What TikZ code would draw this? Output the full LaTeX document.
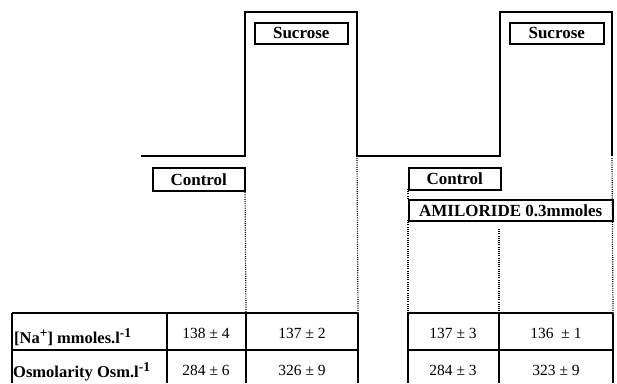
\documentclass[tikz,border=0pt]{standalone}
\usepackage{fontspec}
\setmainfont{Liberation Serif}
\newcommand{\supr}[1]{\raisebox{6pt}{\fontsize{13.5}{13.5}\selectfont #1}}
\begin{document}
\begin{tikzpicture}[x=1pt,y=-1pt,
 trace/.style={line width=1.8pt,line join=miter},
 labelbox/.style={draw,line width=1.5pt,inner sep=0pt,anchor=north west,font=\fontsize{17}{18}\selectfont\bfseries},
 guide/.style={line width=1.2pt,dash pattern=on 1pt off 1.2pt},
 gridline/.style={line width=1.3pt},
 topline/.style={line width=2pt},
 val/.style={font=\fontsize{15.5}{17}\selectfont},
 rowlab/.style={anchor=west,inner sep=0pt,font=\fontsize{16.5}{18}\selectfont\bfseries}]
\useasboundingbox (0,0) rectangle (617,383);
% trace coordinates
\coordinate (t0) at (141,156);
\coordinate (t1) at (245,156);
\coordinate (t2) at (245,12);
\coordinate (t3) at (357,12);
\coordinate (t4) at (357,156);
\coordinate (t5) at (500,156);
\coordinate (t6) at (500,12);
\coordinate (t7) at (612,12);
\coordinate (t8) at (612,156);
\draw[trace] (t0) -- (t1) -- (t2) -- (t3) -- (t4) -- (t5) -- (t6) -- (t7) -- (t8);
% label boxes
\node[labelbox,minimum width=93pt,minimum height=21pt] (suc1) at (254,22) {Sucrose};
\node[labelbox,minimum width=94pt,minimum height=21pt] (suc2) at (509,22) {Sucrose};
\node[labelbox,minimum width=92pt,minimum height=23pt] (con1) at (152,167) {Control};
\node[labelbox,minimum width=92pt,minimum height=22pt] (con2) at (408,167) {Control};
\node[labelbox,minimum width=204pt,minimum height=21pt] (amil) at (408,199) {AMILORIDE 0.3mmoles};
% table coordinates
\coordinate (a0) at (12,313);  \coordinate (a0b) at (12,383);
\coordinate (a1) at (167,313); \coordinate (a1b) at (167,383);
\coordinate (a2) at (246,313); \coordinate (a2b) at (246,383);
\coordinate (a3) at (358,313); \coordinate (a3b) at (358,383);
\coordinate (b0) at (408,313); \coordinate (b0b) at (408,383);
\coordinate (b1) at (499,313); \coordinate (b1b) at (499,383);
\coordinate (b2) at (613,313); \coordinate (b2b) at (613,383);
\coordinate (ar) at (12,350);  \coordinate (arr) at (358,350);
\coordinate (br) at (408,350); \coordinate (brr) at (613,350);
% guide lines
\coordinate (g1) at (245,190);
\coordinate (g2) at (357,158);
\coordinate (g3) at (408,220);
\coordinate (g4) at (499,229);
\coordinate (g5) at (612,158);
\coordinate (g6) at (408,189);
\draw[guide] (g1) -- (a2);
\draw[guide] (g2) -- (a3);
\draw[guide] (g3) -- (b0);
\draw[guide] (g4) -- (b1);
\draw[guide] (g5) -- (b2);
\draw[guide] (g6) -- (amil.north west);
% table lines
\draw[topline] (a0) -- (a3);
\draw[topline] (b0) -- (b2);
\draw[gridline] (ar) -- (arr);
\draw[gridline] (br) -- (brr);
\draw[gridline] (a0) -- (a0b);
\draw[gridline] (a1) -- (a1b);
\draw[gridline] (a2) -- (a2b);
\draw[gridline] (a3) -- (a3b);
\draw[gridline] (b0) -- (b0b);
\draw[gridline] (b1) -- (b1b);
\draw[gridline] (b2) -- (b2b);
% table text
\node[rowlab] (na) at (14,337) {[Na\supr{+}] mmoles.l\supr{-1}};
\node[rowlab] (osm) at (13,372) {Osmolarity Osm.l\supr{-1}};
\node[val] (v11) at (206,333) {138 ± 4};
\node[val] (v12) at (302,333) {137 ± 2};
\node[val] (v13) at (453,333) {137 ± 3};
\node[val] (v14) at (556,333) {136 \ ± 1};
\node[val] (v21) at (206,370) {284 ± 6};
\node[val] (v22) at (302,370) {326 ± 9};
\node[val] (v23) at (453,370) {284 ± 3};
\node[val] (v24) at (556,370) {323 ± 9};
\end{tikzpicture}
\end{document}
